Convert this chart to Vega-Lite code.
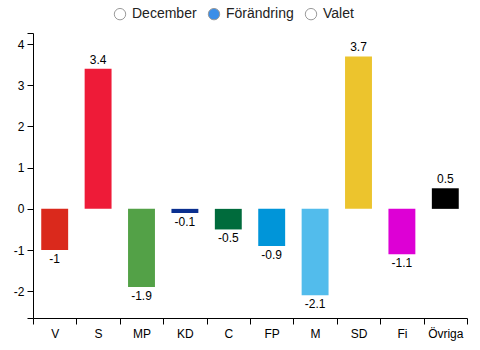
{
  "$schema": "https://vega.github.io/schema/vega-lite/v6.json",
  "autosize": "none",
  "width": 434,
  "height": 285,
  "padding": {"left": 33, "top": 33, "right": 13, "bottom": 32},
  "background": "white",
  "config": {
    "view": {"stroke": null},
    "font": "Liberation Sans",
    "axis": {"labelFont": "Liberation Sans", "labelFontSize": 12, "labelColor": "#000", "domainColor": "#000", "tickColor": "#000", "grid": false, "title": null, "labelOverlap": false}
  },
  "datasets": {
    "parties": [
      {"party": "V", "change": -1, "label": "-1", "color": "#da291c"},
      {"party": "S", "change": 3.4, "label": "3.4", "color": "#ee1b38"},
      {"party": "MP", "change": -1.9, "label": "-1.9", "color": "#53a147"},
      {"party": "KD", "change": -0.1, "label": "-0.1", "color": "#0a2f8f"},
      {"party": "C", "change": -0.5, "label": "-0.5", "color": "#006b3c"},
      {"party": "FP", "change": -0.9, "label": "-0.9", "color": "#0095d9"},
      {"party": "M", "change": -2.1, "label": "-2.1", "color": "#52bcec"},
      {"party": "SD", "change": 3.7, "label": "3.7", "color": "#ecc42d"},
      {"party": "Fi", "change": -1.1, "label": "-1.1", "color": "#dd00d5"},
      {"party": "Övriga", "change": 0.5, "label": "0.5", "color": "#000000"}
    ],
    "options": [
      {"opt": "December"},
      {"opt": "Förändring"},
      {"opt": "Valet"}
    ]
  },
  "layer": [
    {
      "data": {"name": "parties"},
      "encoding": {
        "x": {
          "field": "party", "type": "nominal", "sort": null,
          "scale": {"paddingInner": 0, "paddingOuter": 0},
          "axis": {"labelAngle": 0, "tickBand": "extent", "tickSize": 6, "labelPadding": 4, "labelOverlap": false}
        },
        "y": {
          "field": "change", "type": "quantitative",
          "scale": {"domain": [-2.65, 4.27], "nice": false, "zero": false},
          "axis": {"values": [-2.65, -2, -1, 0, 1, 2, 3, 4, 4.27], "labelOverlap": false, "labelExpr": "datum.value % 1 === 0 ? '' + datum.value : ''", "tickSize": 6, "labelPadding": 3}
        }
      },
      "layer": [
        {
          "mark": {"type": "bar", "width": {"band": 0.62}},
          "encoding": {
            "y2": {"datum": 0},
            "color": {"field": "color", "type": "nominal", "scale": null}
          }
        },
        {
          "transform": [{"filter": "datum.change >= 0"}],
          "mark": {"type": "text", "baseline": "bottom", "dy": -2, "fontSize": 12, "color": "#000"},
          "encoding": {"text": {"field": "label"}}
        },
        {
          "transform": [{"filter": "datum.change < 0"}],
          "mark": {"type": "text", "baseline": "top", "dy": 4, "fontSize": 12, "color": "#000"},
          "encoding": {"text": {"field": "label"}}
        }
      ]
    },
    {
      "data": {"name": "options"},
      "mark": {"type": "point", "opacity": 0},
      "encoding": {
        "fill": {
          "field": "opt", "type": "nominal", "sort": null,
          "scale": {"domain": ["December", "Förändring", "Valet"], "range": ["#ffffff", "#3b8ee8", "#ffffff"]},
          "legend": {
            "title": null,
            "orient": "none",
            "direction": "horizontal",
            "legendX": 80,
            "legendY": -26,
            "symbolType": "circle",
            "symbolSize": 130,
            "symbolStrokeColor": "#9a9a9a",
            "symbolStrokeWidth": 1,
            "symbolOpacity": 1,
            "labelFontSize": 14,
            "labelFont": "Liberation Sans",
            "labelColor": "#222",
            "labelOffset": 5,
            "columnPadding": 9
          }
        }
      }
    }
  ]
}
